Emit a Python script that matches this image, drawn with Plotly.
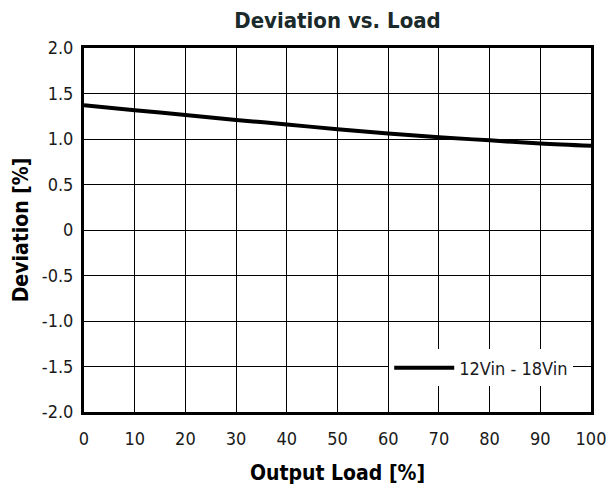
import plotly.graph_objects as go

load_pct = [0, 10, 20, 30, 40, 50, 60, 70, 80, 90, 100]
deviation_12_18 = [1.37, 1.315, 1.265, 1.21, 1.16, 1.107, 1.06, 1.02, 0.985, 0.95, 0.925]
x_ticks = [0, 10, 20, 30, 40, 50, 60, 70, 80, 90, 100]
y_ticks = [2.0, 1.5, 1.0, 0.5, 0, -0.5, -1.0, -1.5, -2.0]
y_ticktext = ["2.0", "1.5", "1.0", "0.5", "0", "-0.5", "-1.0", "-1.5", "-2.0"]

FONT = "DejaVu Sans Condensed, Liberation Sans Narrow, Arial Narrow, sans-serif"

fig = go.Figure()
fig.add_trace(go.Scatter(
    x=load_pct, y=deviation_12_18, mode="lines", name="12Vin - 18Vin",
    line=dict(color="black", width=4, shape="spline"),
))

fig.update_layout(
    width=608, height=493,
    margin=dict(l=84, r=17, t=48, b=81),
    paper_bgcolor="white", plot_bgcolor="white",
    font=dict(family=FONT, size=18, color="#1a1a1a"),
    title=dict(text="<b>Deviation vs. Load</b>", x=0.5, xref="paper", xanchor="center",
               y=0.975, yanchor="top", font=dict(family=FONT, size=22, color="#1a2a2a")),
    showlegend=True,
    legend=dict(x=0.602, y=0.121, xanchor="left", yanchor="middle",
                bgcolor="white", borderwidth=0, itemwidth=60,
                font=dict(family=FONT, size=18, color="#1a1a1a")),
)
fig.update_xaxes(
    range=[0, 100], tickvals=x_ticks, ticks="", showgrid=True, gridcolor="black", gridwidth=1,
    showline=True, linecolor="black", linewidth=3, mirror=True, zeroline=False,
    ticklabelstandoff=8, automargin=False,
    title=dict(text="<b>Output Load [%]</b>", font=dict(family=FONT, size=21, color="black"), standoff=18),
)
fig.update_yaxes(
    range=[-2, 2], tickvals=y_ticks, ticktext=y_ticktext, ticks="", showgrid=True,
    gridcolor="black", gridwidth=1, ticklabelstandoff=4, automargin=False,
    showline=True, linecolor="black", linewidth=3, mirror=True, zeroline=False,
    title=dict(text="<b>Deviation [%]</b>", font=dict(family=FONT, size=21, color="black"), standoff=8),
)

fig.write_html("out.html", config={"displayModeBar": False},
               post_script="document.body.style.margin='0';document.body.style.overflow='hidden';")
